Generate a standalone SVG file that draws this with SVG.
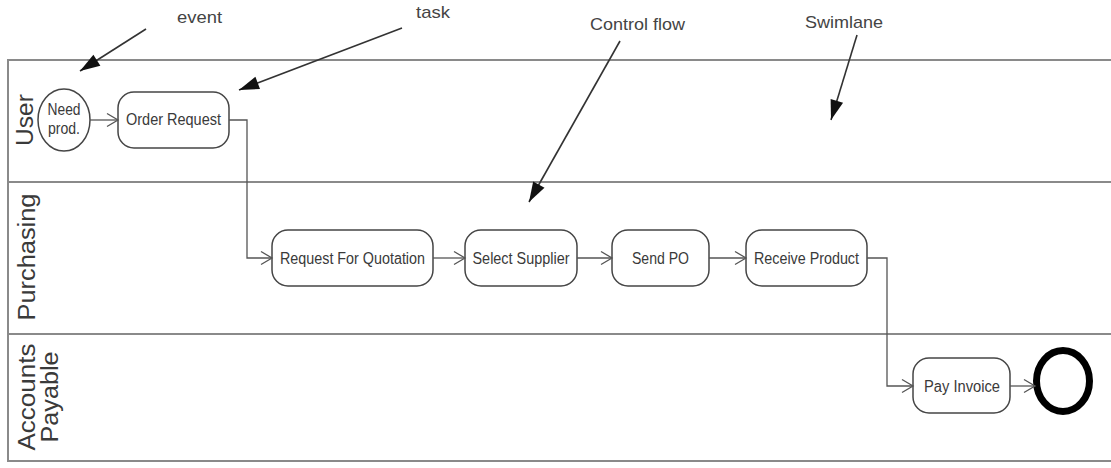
<svg xmlns="http://www.w3.org/2000/svg" width="1111" height="468" viewBox="0 0 1111 468">
<style>
.lane{stroke:#8a8a8a;stroke-width:2;fill:none}
.lbl{font-family:"Liberation Sans",Arial,sans-serif;font-size:23px;fill:#3a3a3a}
.node{fill:#fff;stroke:#454545;stroke-width:1.5}
.t{font-family:"Liberation Sans",Arial,sans-serif;font-size:16px;fill:#3a3a3a;text-anchor:middle}
.ann{font-family:"Liberation Sans",Arial,sans-serif;font-size:17px;fill:#444}
.flow{stroke:#555;stroke-width:1.3;fill:none;marker-end:url(#open)}
.pt{stroke:#333;stroke-width:1.6;fill:none;marker-end:url(#solid)}
</style>
<defs>
<marker id="open" markerUnits="userSpaceOnUse" markerWidth="12" markerHeight="14" refX="11" refY="7" orient="auto" overflow="visible">
<path d="M0,0.5 L11,7 L0,13.5" fill="none" stroke="#555" stroke-width="1.3"/>
</marker>
<marker id="solid" markerUnits="userSpaceOnUse" markerWidth="22" markerHeight="14" refX="20" refY="6.5" orient="auto" overflow="visible">
<path d="M0,0 L20,6.5 L0,13 Z" fill="#111"/>
</marker>
</defs>

<g id="lanes">
<line class="lane" x1="8" y1="60" x2="1111" y2="60"/>
<line class="lane" x1="8" y1="182" x2="1111" y2="182"/>
<line class="lane" x1="8" y1="334" x2="1111" y2="334"/>
<line class="lane" x1="8" y1="461" x2="1111" y2="461"/>
<line class="lane" x1="8" y1="59" x2="8" y2="462"/>
</g>
<g id="lane-user"><text class="lbl" transform="translate(33,120) rotate(-90)" text-anchor="middle" textLength="52" lengthAdjust="spacingAndGlyphs">User</text></g>
<g id="lane-purchasing"><text class="lbl" transform="translate(35,257) rotate(-90)" text-anchor="middle" textLength="127" lengthAdjust="spacingAndGlyphs">Purchasing</text></g>
<g id="lane-ap">
<text class="lbl" transform="translate(35,397) rotate(-90)" text-anchor="middle" textLength="107" lengthAdjust="spacingAndGlyphs">Accounts</text>
<text class="lbl" transform="translate(58,397) rotate(-90)" text-anchor="middle" textLength="91" lengthAdjust="spacingAndGlyphs">Payable</text>
</g>

<g id="start">
<ellipse class="node" cx="64" cy="120" rx="26" ry="31"/>
<text class="t" x="64" y="115" textLength="33" lengthAdjust="spacingAndGlyphs">Need</text>
<text class="t" x="64" y="134" textLength="32" lengthAdjust="spacingAndGlyphs">prod.</text>
</g>
<g id="order-request">
<rect class="node" x="118" y="92" width="111" height="56" rx="16"/>
<text class="t" x="173.5" y="125" textLength="95" lengthAdjust="spacingAndGlyphs">Order Request</text>
</g>
<g id="rfq">
<rect class="node" x="272" y="230" width="161" height="56" rx="16"/>
<text class="t" x="352.5" y="264" textLength="145" lengthAdjust="spacingAndGlyphs">Request For Quotation</text>
</g>
<g id="select-supplier">
<rect class="node" x="465" y="230" width="112" height="56" rx="16"/>
<text class="t" x="521" y="264" textLength="97" lengthAdjust="spacingAndGlyphs">Select Supplier</text>
</g>
<g id="send-po">
<rect class="node" x="612" y="230" width="97" height="56" rx="16"/>
<text class="t" x="660.5" y="264" textLength="57" lengthAdjust="spacingAndGlyphs">Send PO</text>
</g>
<g id="receive-product">
<rect class="node" x="746" y="230" width="121" height="56" rx="16"/>
<text class="t" x="806.5" y="264" textLength="105" lengthAdjust="spacingAndGlyphs">Receive Product</text>
</g>
<g id="pay-invoice">
<rect class="node" x="913" y="358" width="97" height="55" rx="16"/>
<text class="t" x="962" y="392" textLength="76" lengthAdjust="spacingAndGlyphs">Pay Invoice</text>
</g>
<g id="end">
<ellipse cx="1063" cy="381" rx="26.5" ry="30.5" fill="#fff" stroke="#000" stroke-width="7"/>
</g>

<g id="connectors">
<line class="flow" x1="90" y1="120" x2="118" y2="120"/>
<polyline class="flow" points="229,120 247,120 247,258 272,258"/>
<line class="flow" x1="433" y1="258" x2="465" y2="258"/>
<line class="flow" x1="577" y1="258" x2="612" y2="258"/>
<line class="flow" x1="709" y1="258" x2="746" y2="258"/>
<polyline class="flow" points="867,258 887,258 887,386 913,386"/>
<line class="flow" x1="1010" y1="386" x2="1035" y2="386"/>
</g>

<g id="annotations">
<text class="ann" x="177" y="23" textLength="45" lengthAdjust="spacingAndGlyphs">event</text>
<line class="pt" x1="146" y1="29" x2="80" y2="71"/>
<text class="ann" x="416" y="18" textLength="34" lengthAdjust="spacingAndGlyphs">task</text>
<line class="pt" x1="402" y1="28" x2="239" y2="90"/>
<text class="ann" x="590" y="30" textLength="95" lengthAdjust="spacingAndGlyphs">Control flow</text>
<line class="pt" x1="620" y1="41" x2="529" y2="202"/>
<text class="ann" x="805" y="28" textLength="78" lengthAdjust="spacingAndGlyphs">Swimlane</text>
<line class="pt" x1="857" y1="35" x2="831" y2="120"/>
</g>
</svg>
